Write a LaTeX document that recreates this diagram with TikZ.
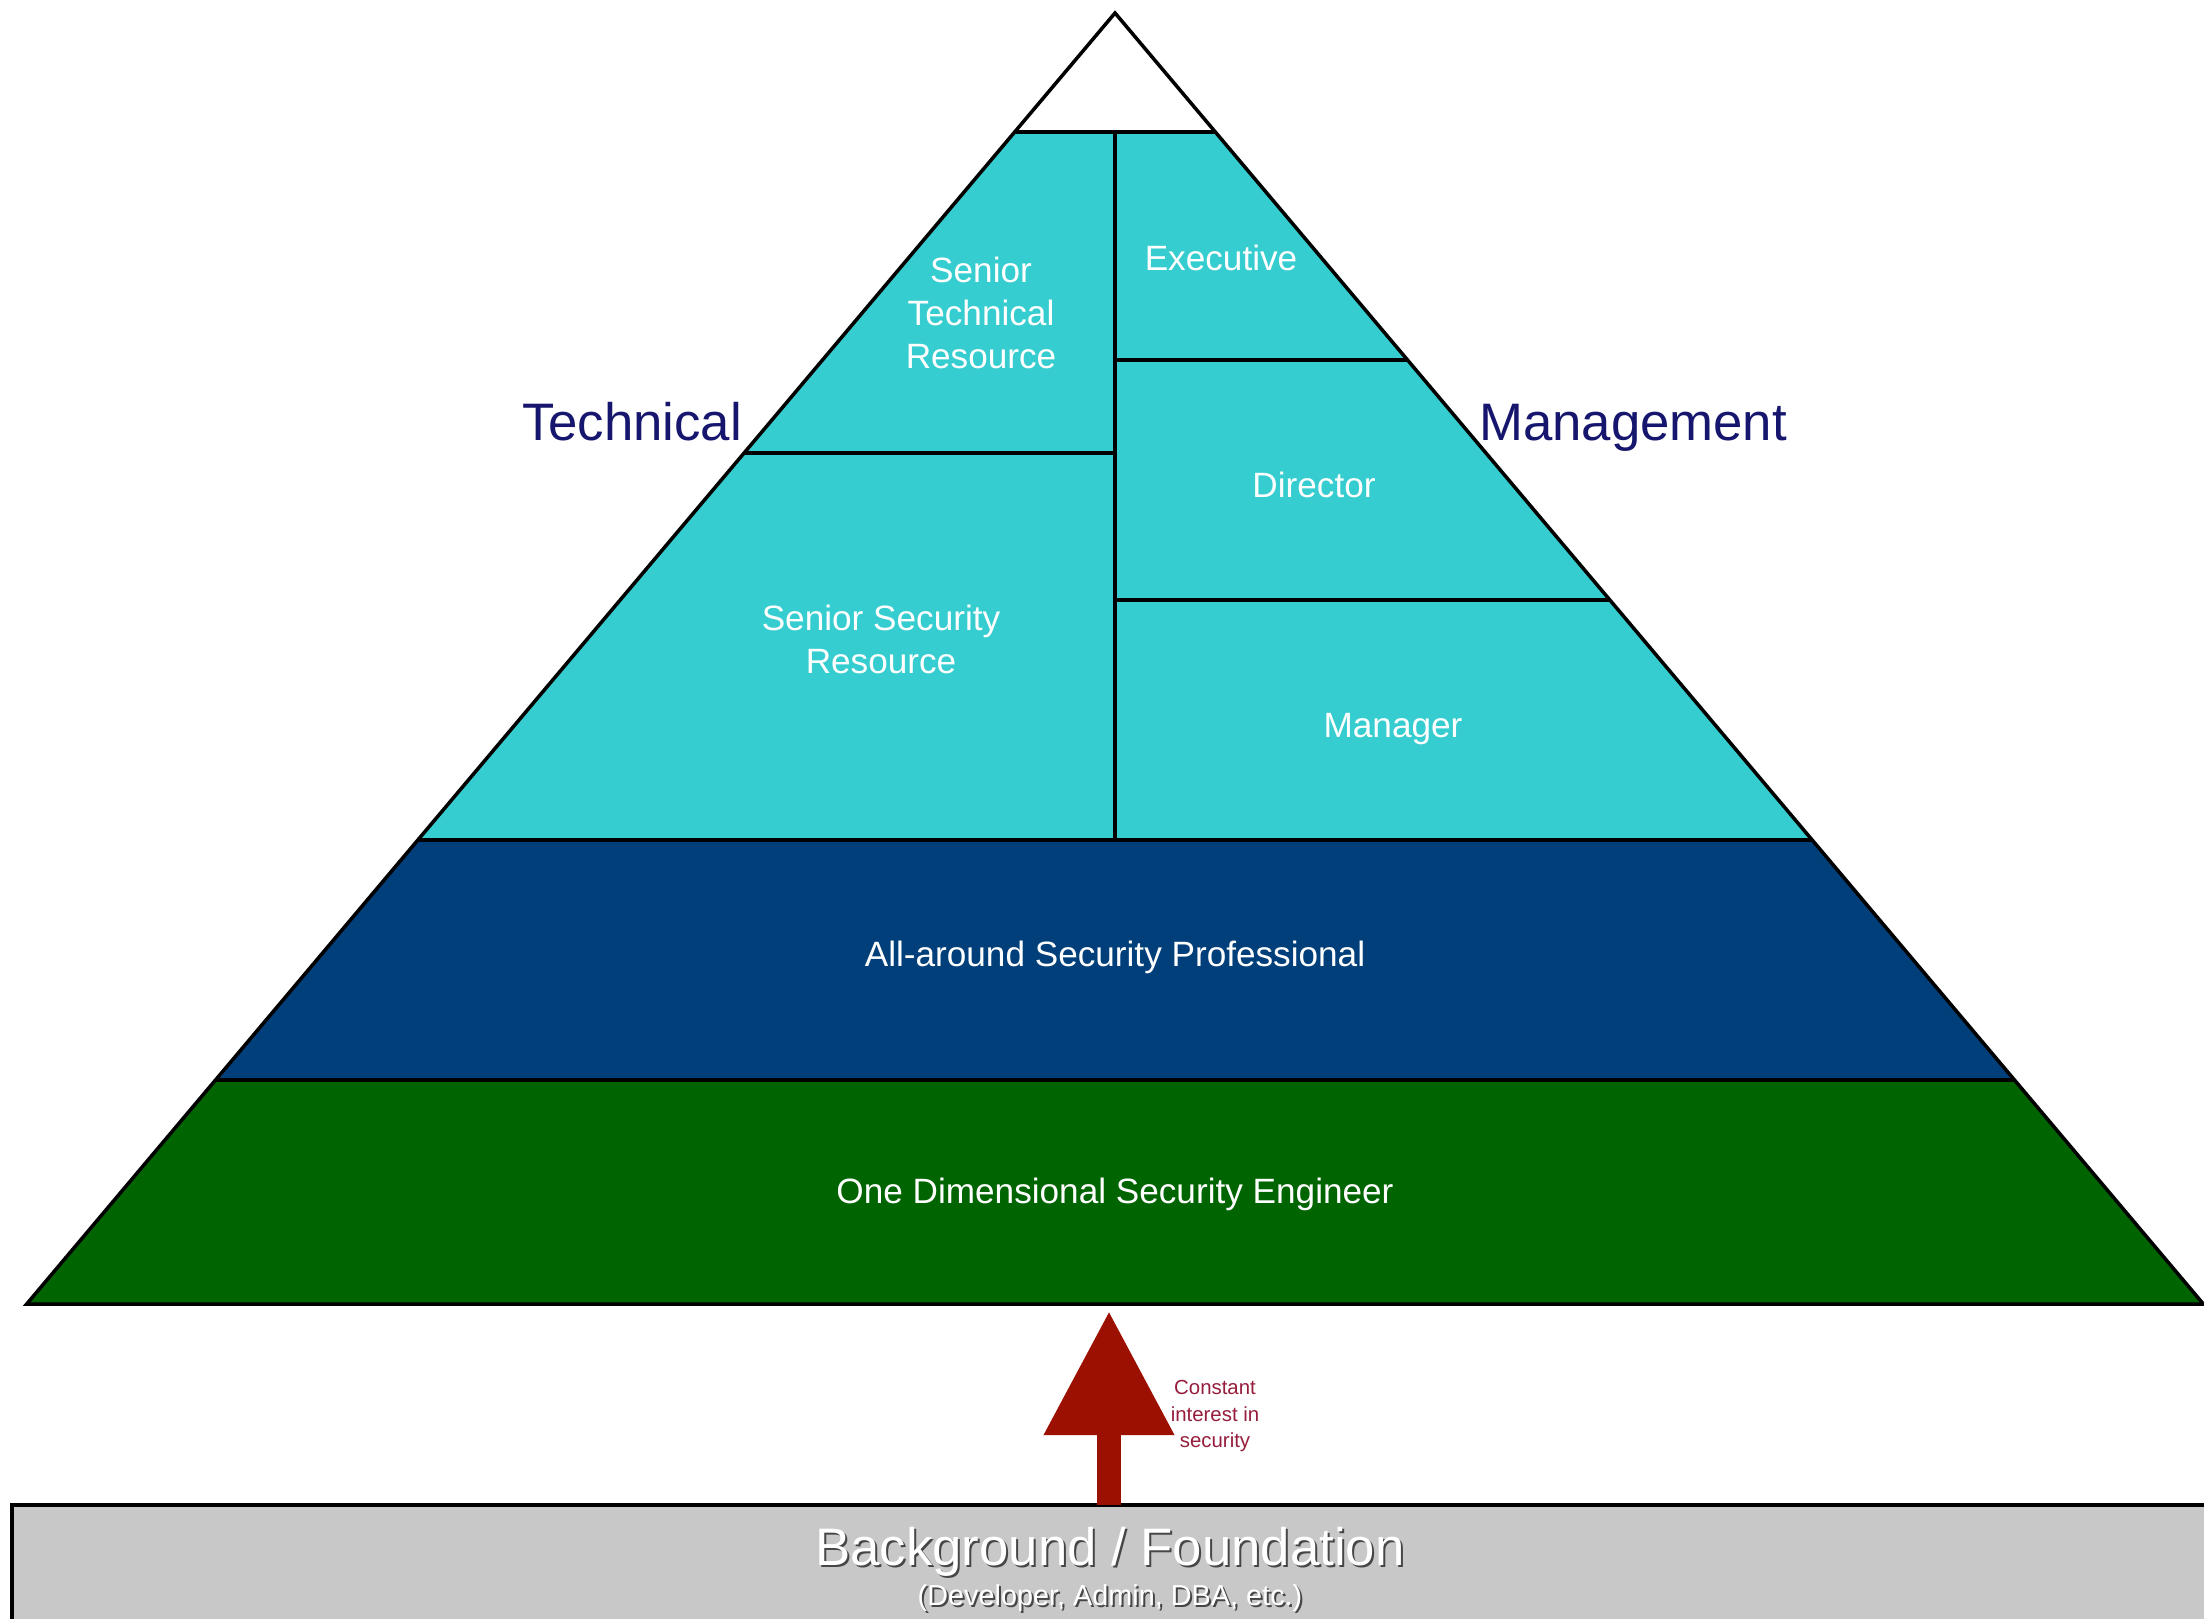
\documentclass[tikz,border=0pt]{standalone}
\usepackage{fontspec}
\setmainfont{Liberation Sans}
\usetikzlibrary{arrows.meta}

\definecolor{tealfill}{RGB}{54,205,208}
\definecolor{navyband}{RGB}{0,63,122}
\definecolor{greenband}{RGB}{0,100,0}
\definecolor{basegrey}{RGB}{200,200,200}
\definecolor{arrowred}{RGB}{155,16,0}
\definecolor{labelnavy}{RGB}{22,22,110}
\definecolor{notered}{RGB}{150,30,60}
\definecolor{embossgrey}{RGB}{70,70,70}

\begin{document}
\begin{tikzpicture}[x=0.01cm, y=-0.01cm, line join=miter,
  edge/.style={draw=black, line width=1pt},
  tier/.style={text=white, align=center, inner sep=0pt,
    font=\fontsize{10}{12.2}\selectfont},
  side/.style={text=labelnavy, inner sep=0pt, anchor=base,
    font=\fontsize{15}{18}\selectfont},
  note/.style={text=notered, align=center, inner sep=0pt,
    font=\fontsize{5.8}{7.4}\selectfont},
  basetitle/.style={inner sep=0pt, font=\fontsize{15}{18}\selectfont},
  basesub/.style={inner sep=0pt, font=\fontsize{8.2}{10}\selectfont},
  upshaft/.style={draw=arrowred, line width=0.24cm,
    -{Triangle[length=1.24cm, width=1.24cm, fill=arrowred]}}]

\useasboundingbox (0,0) rectangle (2204,1619);
\clip (0,0) rectangle (2204,1619);
\fill[white] (0,0) rectangle (2204,1619);

% corner points of the pyramid and its divisions
\coordinate (apex) at (1115,13);
\coordinate (tl) at (1014.7,132);
\coordinate (tm) at (1115,132);
\coordinate (tr) at (1215.3,132);
\coordinate (em) at (1115,360);
\coordinate (er) at (1407.5,360);
\coordinate (sl) at (744.1,453);
\coordinate (sm) at (1115,453);
\coordinate (dm) at (1115,600);
\coordinate (dr) at (1609.8,600);
\coordinate (cl) at (417.8,840);
\coordinate (cm) at (1115,840);
\coordinate (cr) at (1812.2,840);
\coordinate (nl) at (215.5,1080);
\coordinate (nr) at (2014.5,1080);
\coordinate (bl) at (26.7,1304);
\coordinate (br) at (2203.3,1304);

% coloured tiers
\fill[tealfill] (tl) -- (tr) -- (cr) -- (cl) -- cycle;
\fill[navyband] (cl) -- (cr) -- (nr) -- (nl) -- cycle;
\fill[greenband] (nl) -- (nr) -- (br) -- (bl) -- cycle;

% outline and dividing lines
\draw[edge] (apex) -- (bl) -- (br) -- cycle;
\draw[edge] (tl) -- (tr);
\draw[edge] (tm) -- (cm);
\draw[edge] (sl) -- (sm);
\draw[edge] (em) -- (er);
\draw[edge] (dm) -- (dr);
\draw[edge] (cl) -- (cr);
\draw[edge] (nl) -- (nr);

% foundation slab
\draw[line width=1.1pt, fill=basegrey] (12,1505) rectangle (2240,1660);

% tier labels
\node[tier] (srtech) at (981,313) {Senior\\Technical\\Resource};
\node[tier] (exec) at (1221,258) {Executive};
\node[tier] (dir) at (1314,485) {Director};
\node[tier] (srsec) at (881,639) {Senior Security\\Resource};
\node[tier] (mgr) at (1393,729) {Manager};
\node[tier] (allround) at (1115,957) {All-around Security Professional};
\node[tier] (onedim) at (1115,1194) {One Dimensional Security Engineer};

% side labels, sharing one baseline
\node[side] (tech) at (632,441) {Technical};
\node[side] (mgmt) at (1633,441) {Management};

% embossed foundation text
\node[basetitle, text=embossgrey] at (1112,1554) {Background / Foundation};
\node[basetitle, text=white] (found) at (1110,1552) {Background / Foundation};
\node[basesub, text=embossgrey] at (1112,1600) {(Developer, Admin, DBA, etc.)};
\node[basesub, text=white] (foundsub) at (1110,1598) {(Developer, Admin, DBA, etc.)};

% growth arrow from the foundation to the pyramid base
\coordinate (arrowfoot) at (1109,1505);
\coordinate (arrowtip) at (1109,1311);
\draw[upshaft] (arrowfoot) -- (arrowtip);
\node[note] (interest) at (1215,1416) {Constant\\interest in\\security};

\end{tikzpicture}
\end{document}
